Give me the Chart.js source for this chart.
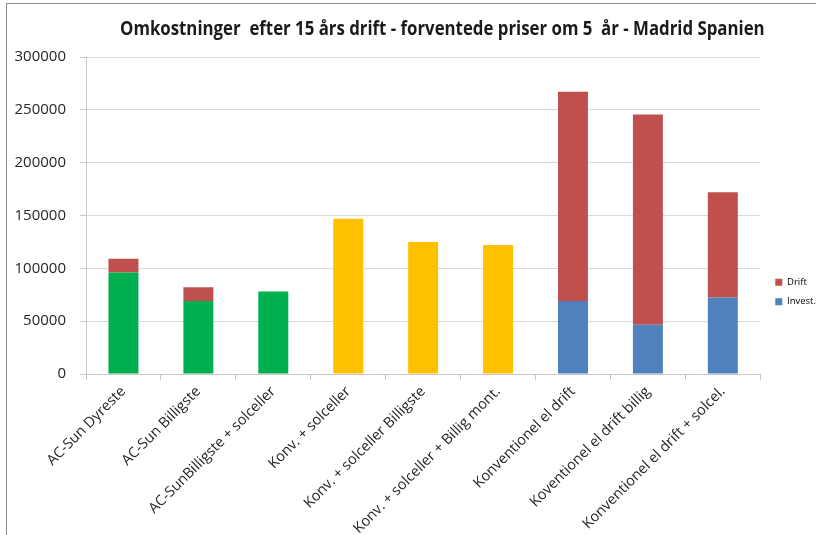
<!DOCTYPE html>
<html lang="da">
<head>
<meta charset="UTF-8">
<title>Omkostninger efter 15 års drift</title>
<script src="https://cdn.jsdelivr.net/npm/chart.js"></script>
<style>
  html, body { margin: 0; padding: 0; background: #fff; overflow: hidden; }
  #frame { position: absolute; left: 6px; top: 3px; width: 900px; height: 600px;
           border-left: 1px solid #8c8c8c; border-top: 1px solid #8c8c8c; }
  #wrap { position: absolute; left: 0; top: 0; width: 821px; height: 535px; }
  #title { position: absolute; left: 0; top: 15px; white-space: nowrap;
           font: bold 19px "Open Sans"; color: #1a1a1a; transform-origin: 0 0; }
</style>
</head>
<body>
<div id="frame"></div>
<div id="wrap"><canvas id="myChart" width="821" height="535"></canvas></div>
<div id="title">Omkostninger&nbsp; efter 15 års drift - forventede priser om 5&nbsp; år - Madrid Spanien</div>

<script>
// data
const categories = [
  'AC-Sun Dyreste',
  'AC-Sun Billigste',
  'AC-SunBilligste + solceller',
  'Konv. + solceller',
  'Konv. + solceller Billigste',
  'Konv. + solceller + Billig mont.',
  'Konventionel el drift',
  'Koventionel el drift billig',
  'Konventionel el drift + solcel.'
];
const investValues = [96000, 69000, 78000, 147000, 125000, 122000, 69000, 46500, 72500];
const driftValues  = [13000, 13000, null, null, null, null, 198000, 199000, 99500];
const yTicks = [0, 50000, 100000, 150000, 200000, 250000, 300000];

// colours per group (the invest bars are recoloured per point)
const green = '#00b050', yellow = '#ffc000', blue = '#4f81bd', red = '#c0504d';
const investColors = [green, green, green, yellow, yellow, yellow, blue, blue, blue];

// title: squeeze to the width it has in the picture
const title = document.getElementById('title');
const tw = title.offsetWidth;
const targetW = 645;
title.style.left = (442 - targetW / 2) + 'px';
title.style.transform = 'scaleX(' + (targetW / tw) + ')';

// nudge the legend a little, like in the picture
const legendNudge = {
  id: 'legendNudge',
  afterLayout(chart) {
    const lg = chart.legend;
    lg.left += 5; lg.right += 5;
    lg.top -= 4; lg.bottom -= 4;
  }
};

const ctx = document.getElementById('myChart').getContext('2d');
const myChart = new Chart(ctx, {
  type: 'bar',
  data: {
    labels: categories,
    datasets: [
      { label: 'Invest.', data: investValues, backgroundColor: investColors,
        categoryPercentage: 1, barPercentage: 0.4 },
      { label: 'Drift', data: driftValues, backgroundColor: red,
        categoryPercentage: 1, barPercentage: 0.4 }
    ]
  },
  options: {
    responsive: false,
    devicePixelRatio: 1,
    animation: false,
    layout: { padding: { top: 57, left: 0, right: 0, bottom: 0 } },
    plugins: {
      tooltip: { enabled: false },
      title: { display: false },
      legend: {
        position: 'right',
        align: 'center',
        labels: {
          boxWidth: 7, boxHeight: 7, padding: 10,
          color: '#333',
          font: { family: 'Open Sans', size: 9.5 },
          generateLabels: (chart) => [
            { text: 'Drift', fillStyle: red, strokeStyle: red, lineWidth: 0, datasetIndex: 1 },
            { text: 'Invest.', fillStyle: blue, strokeStyle: blue, lineWidth: 0, datasetIndex: 0 }
          ]
        }
      }
    },
    scales: {
      x: {
        stacked: true,
        afterFit: (s) => { s.height = 161; },
        grid: { offset: true, drawOnChartArea: false, drawTicks: true, tickLength: 6, color: '#c8c8c8' },
        border: { color: '#c8c8c8' },
        ticks: {
          autoSkip: false, minRotation: 45, maxRotation: 45, padding: 3,
          color: '#262626', font: { family: 'Open Sans', size: 14.5 }
        }
      },
      y: {
        stacked: true,
        min: 0, max: 300000,
        afterFit: (s) => { s.width = 86; },
        afterBuildTicks: (s) => { s.ticks = yTicks.map(v => ({ value: v })); },
        grid: { color: '#d9d9d9', tickLength: 6, tickColor: '#c8c8c8' },
        border: { color: '#c8c8c8' },
        ticks: {
          padding: 14,
          callback: (v) => String(v),
          color: '#262626', font: { family: 'Open Sans', size: 15 }
        }
      }
    }
  },
  plugins: [legendNudge]
});
</script>
</body>
</html>
